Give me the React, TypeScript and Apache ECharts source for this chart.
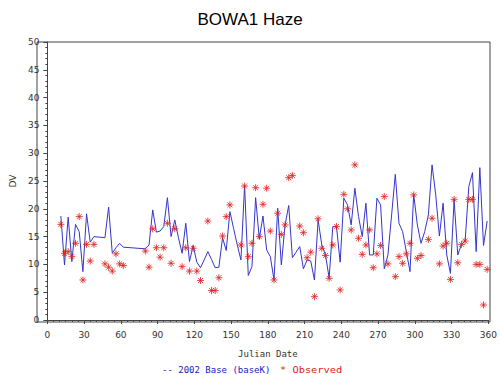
import React, { useEffect, useRef } from "react";
import * as echarts from "echarts";

const baseDays = [11,14,17,20,23,26,29,32,35,38,47,50,53,56,59,62,80,83,86,89,92,95,98,101,104,107,110,113,116,119,122,125,128,131,134,137,140,143,146,149,152,155,158,161,164,167,170,173,176,179,182,185,188,191,194,197,200,203,206,209,212,215,218,221,224,227,230,233,236,239,242,245,248,251,254,257,260,263,266,269,272,275,278,281,284,287,290,293,296,299,302,305,308,311,314,317,320,323,326,329,332,335,338,341,344,347,350,353,356,359];
const baseValues = [18.7,9.9,18.5,10.5,17.2,15.9,8.7,19.1,14.0,15.0,14.8,20.3,12.0,13.0,13.8,13.1,12.8,13.5,19.8,15.8,16.0,16.8,22.0,15.0,18.0,14.8,12.0,17.4,10.5,13.4,10.4,9.4,10.8,12.3,10.9,9.4,9.5,14.8,12.5,19.5,16.5,13.5,10.8,24.2,8.0,9.6,22.0,14.6,18.7,12.6,11.4,7.2,20.1,9.9,17.1,20.6,11.2,12.2,13.2,9.2,10.8,10.6,7.2,18.0,13.5,11.7,7.6,16.8,16.8,10.4,21.9,20.7,17.1,23.7,18.6,15.0,21.0,11.7,11.7,21.9,20.7,9.2,11.7,18.9,26.2,17.4,15.9,12.3,8.7,22.6,17.1,13.8,15.9,18.9,27.9,22.5,15.1,21.0,11.7,8.4,21.6,11.7,13.6,14.2,24.0,26.5,12.3,27.4,13.4,17.8];

const obsDays = [11,14,17,20,23,26,29,32,35,38,47,50,53,56,59,62,80,83,86,89,92,95,98,101,104,110,113,116,119,122,125,131,134,137,140,143,146,149,158,161,164,167,170,173,176,179,182,185,188,191,194,197,200,206,209,212,215,218,221,224,227,230,233,236,239,242,245,248,251,254,257,260,263,266,269,272,275,278,284,287,290,293,296,299,302,305,311,314,320,323,326,329,332,335,338,341,344,347,350,353,356,359];
const obsValues = [17.2,12.0,12.3,11.4,13.8,18.6,7.2,13.6,10.6,13.6,10.1,9.5,8.8,11.9,10.1,9.8,12.4,9.5,16.4,13.0,11.3,13.0,17.4,10.2,16.4,9.6,13.0,8.8,12.9,8.8,7.1,17.8,5.3,5.3,7.6,15.1,18.6,20.7,13.5,24.1,11.4,13.8,23.8,15.0,20.8,23.7,16.0,7.2,19.2,15.4,17.1,25.6,26.0,16.9,15.7,11.2,12.2,4.2,18.2,12.9,11.6,7.5,13.5,16.8,5.4,22.6,20.0,16.2,27.9,14.7,11.8,13.5,16.2,9.4,11.9,13.4,22.2,10.1,7.8,11.4,10.2,11.9,13.8,22.5,11.1,11.6,14.5,18.3,10.1,13.3,13.8,7.3,21.7,10.3,13.6,14.2,21.7,21.7,10.0,10.0,2.7,9.1];

const title = "BOWA1 Haze";
const xName = "Julian Date";
const yName = "DV";
const baseLabel = "-- 2002 Base (baseK)";
const obsLabel = "* Observed";

const STAR = "path://M0,-10L0,10M-10,0L10,0M-7,-7L7,7M-7,7L7,-7";

export default function App() {
  const ref = useRef<HTMLDivElement>(null);
  useEffect(() => {
    if (!ref.current) return;
    const chart = echarts.init(ref.current, null, { renderer: "svg" });
    const axisText = { color: "#333", fontSize: 9, fontFamily: "DejaVu Sans" };
    const monoText = { fontSize: 9, fontFamily: "DejaVu Sans Mono" };
    chart.setOption({
      animation: false,
      backgroundColor: "#fff",
      title: {
        text: title,
        left: "center",
        top: 6,
        textStyle: { fontFamily: "Liberation Sans", fontSize: 17, fontWeight: "normal", color: "#000" },
      },
      grid: { left: 40, right: 10, top: 42, bottom: 55, show: false },
      xAxis: {
        type: "value",
        min: 0,
        max: 360,
        interval: 30,
        offset: 2,
        name: xName,
        nameLocation: "middle",
        nameGap: 27,
        nameTextStyle: { ...monoText, color: "#333" },
        axisLine: { lineStyle: { color: "#444", width: 1 } },
        axisTick: { show: true, length: 4, lineStyle: { color: "#444" } },
        minorTick: { show: true, splitNumber: 6, length: 2, lineStyle: { color: "#444" } },
        axisLabel: { ...axisText, margin: 8 },
        splitLine: { show: false },
      },
      yAxis: {
        type: "value",
        min: 0,
        max: 50,
        interval: 5,
        offset: 3,
        name: yName,
        nameLocation: "middle",
        nameGap: 23,
        nameRotate: 90,
        nameTextStyle: { ...axisText },
        axisLine: { show: true, lineStyle: { color: "#444", width: 1 } },
        axisTick: { show: true, length: 4, lineStyle: { color: "#444" } },
        minorTick: { show: true, splitNumber: 5, length: 2, lineStyle: { color: "#444" } },
        axisLabel: { ...axisText, margin: 5 },
        splitLine: { show: false },
      },
      graphic: [
        {
          type: "rect",
          shape: { x: 37, y: 42, width: 453, height: 280 },
          style: { fill: "none", stroke: "#444", lineWidth: 1 },
          silent: true,
          z: 0,
        },
        {
          type: "text",
          x: 162,
          y: 370,
          scaleX: 1.0,
          style: { text: baseLabel, fill: "#2020c0", ...monoText, verticalAlign: "middle" },
        },
        {
          type: "text",
          x: 280,
          y: 370,
          scaleX: 1.15,
          style: { text: obsLabel, fill: "#e02020", ...monoText, verticalAlign: "middle" },
        },
      ],
      series: [
        {
          type: "line",
          name: "2002 Base (baseK)",
          data: baseDays.map((d, i) => [d, baseValues[i]]),
          showSymbol: false,
          symbol: "none",
          lineStyle: { color: "#3535cc", width: 1 },
          z: 2,
        },
        {
          type: "scatter",
          name: "Observed",
          data: obsDays.map((d, i) => [d, obsValues[i]]),
          symbol: STAR,
          symbolSize: 7,
          itemStyle: { color: "rgba(0,0,0,0)", borderColor: "#e02020", borderWidth: 1 },
          z: 3,
        },
      ],
    });
    return () => chart.dispose();
  }, []);
  return <div ref={ref} style={{ width: 500, height: 375, position: "absolute", left: 0, top: 0 }} />;
}
